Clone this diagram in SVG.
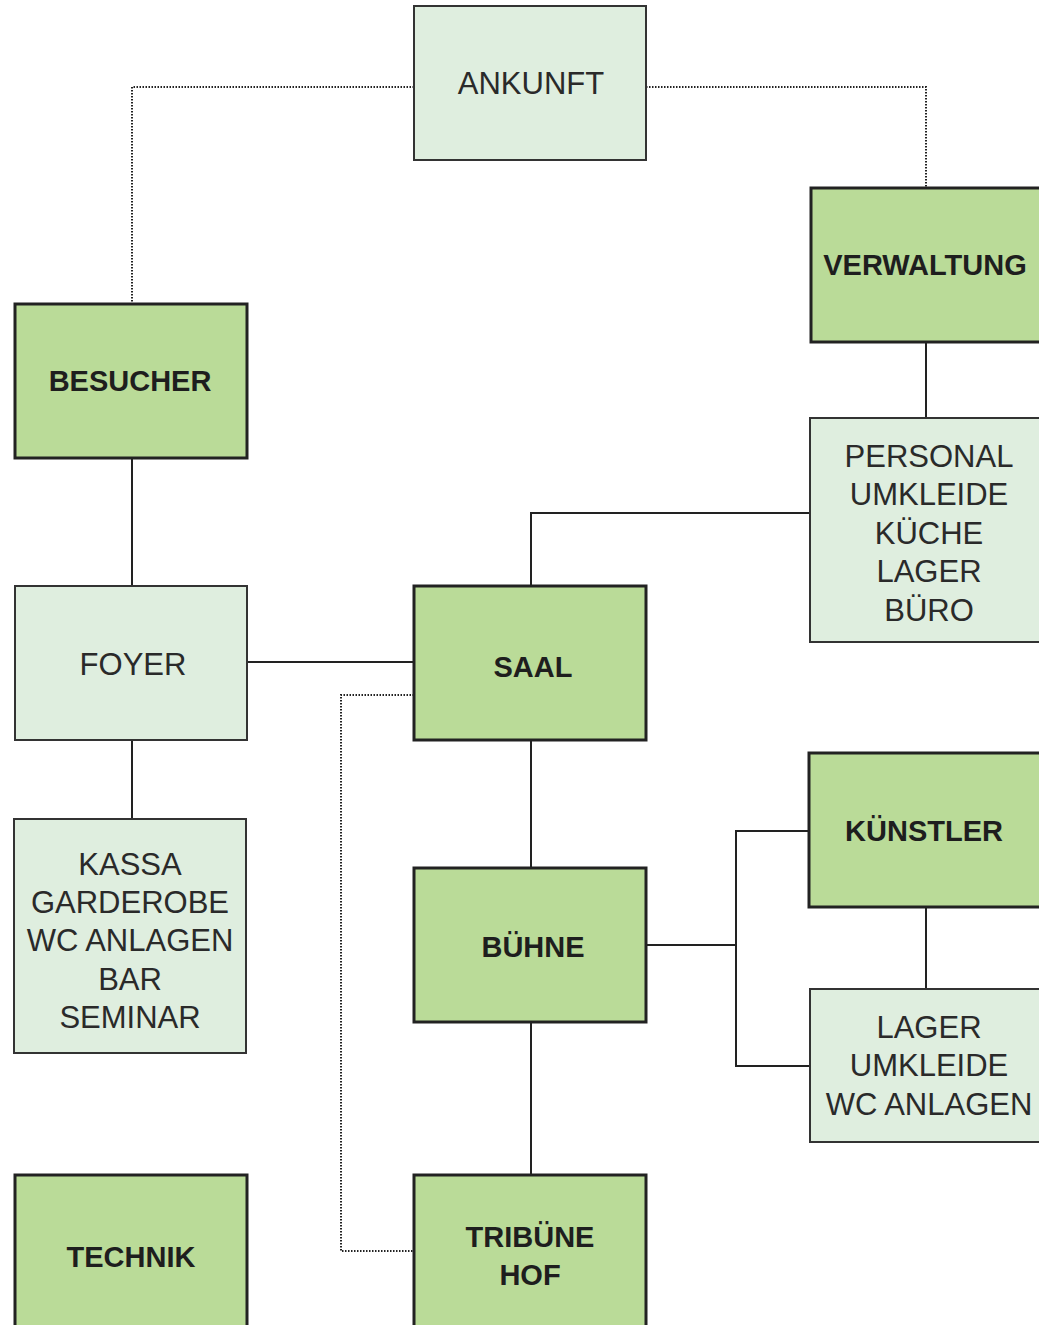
<svg xmlns="http://www.w3.org/2000/svg" width="1039" height="1325" viewBox="0 0 1039 1325">
<style>
.g{fill:#badb98;stroke:#222;stroke-width:3}
.l{fill:#dfeedf;stroke:#333;stroke-width:2}
.bt{font-family:"Liberation Sans",Arial,sans-serif;font-weight:bold;font-size:29px;fill:#1e1e1e;text-anchor:middle}
.lt{font-family:"Liberation Sans",Arial,sans-serif;font-size:31px;fill:#2a2a2a;text-anchor:middle}
.c{fill:none;stroke:#222;stroke-width:2}
.d{fill:none;stroke:#222;stroke-width:2;stroke-dasharray:1.5 1.5}
</style>
<rect width="1039" height="1325" fill="#fff"/>
<g id="connectors">
<polyline class="d" points="414,87 132,87 132,304"/>
<polyline class="d" points="646,87 926,87 926,188"/>
<polyline class="d" points="414,695 341,695 341,1251 414,1251"/>
<line class="c" x1="132" y1="458" x2="132" y2="586"/>
<line class="c" x1="132" y1="740" x2="132" y2="819"/>
<line class="c" x1="247" y1="662" x2="414" y2="662"/>
<polyline class="c" points="531,586 531,513 810,513"/>
<line class="c" x1="926" y1="342" x2="926" y2="418"/>
<line class="c" x1="531" y1="740" x2="531" y2="868"/>
<line class="c" x1="531" y1="1022" x2="531" y2="1175"/>
<line class="c" x1="646" y1="945" x2="736" y2="945"/>
<polyline class="c" points="809,831 736,831 736,1066 810,1066"/>
<line class="c" x1="926" y1="907" x2="926" y2="989"/>
</g>
<g id="ankunft"><rect class="l" x="414" y="6" width="232" height="154"/><text class="lt" x="531" y="94">ANKUNFT</text></g>
<g id="verwaltung"><rect class="g" x="811" y="188" width="240" height="154"/><text class="bt" x="925" y="275">VERWALTUNG</text></g>
<g id="besucher"><rect class="g" x="15" y="304" width="232" height="154"/><text class="bt" x="130" y="391">BESUCHER</text></g>
<g id="personal"><rect class="l" x="810" y="418" width="240" height="224"/>
<text class="lt" x="929" y="467">PERSONAL</text><text class="lt" x="929" y="505">UMKLEIDE</text><text class="lt" x="929" y="544">KÜCHE</text><text class="lt" x="929" y="582">LAGER</text><text class="lt" x="929" y="621">BÜRO</text></g>
<g id="foyer"><rect class="l" x="15" y="586" width="232" height="154"/><text class="lt" x="133" y="675">FOYER</text></g>
<g id="saal"><rect class="g" x="414" y="586" width="232" height="154"/><text class="bt" x="533" y="677">SAAL</text></g>
<g id="kassa"><rect class="l" x="14" y="819" width="232" height="234"/>
<text class="lt" x="130" y="875">KASSA</text><text class="lt" x="130" y="913">GARDEROBE</text><text class="lt" x="130" y="951">WC ANLAGEN</text><text class="lt" x="130" y="990">BAR</text><text class="lt" x="130" y="1028">SEMINAR</text></g>
<g id="kuenstler"><rect class="g" x="809" y="753" width="240" height="154"/><text class="bt" x="924" y="841">KÜNSTLER</text></g>
<g id="buehne"><rect class="g" x="414" y="868" width="232" height="154"/><text class="bt" x="533" y="957">BÜHNE</text></g>
<g id="lager"><rect class="l" x="810" y="989" width="240" height="153"/>
<text class="lt" x="929" y="1038">LAGER</text><text class="lt" x="929" y="1076">UMKLEIDE</text><text class="lt" x="929" y="1115">WC ANLAGEN</text></g>
<g id="technik"><rect class="g" x="15" y="1175" width="232" height="160"/><text class="bt" x="131" y="1267">TECHNIK</text></g>
<g id="tribuene"><rect class="g" x="414" y="1175" width="232" height="160"/><text class="bt" x="530" y="1247">TRIBÜNE</text><text class="bt" x="530" y="1285">HOF</text></g>
</svg>
